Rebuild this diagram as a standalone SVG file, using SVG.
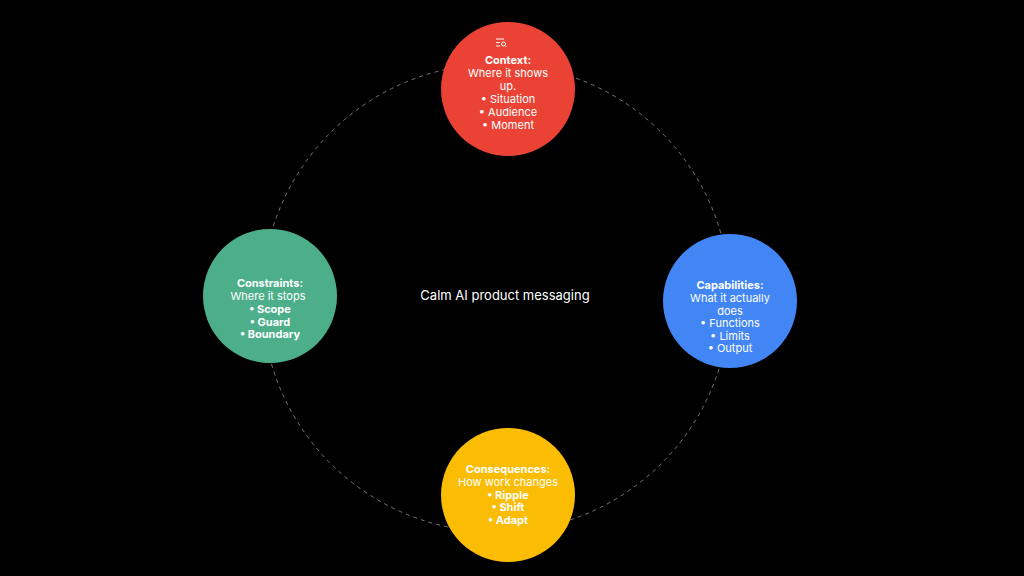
<svg xmlns="http://www.w3.org/2000/svg" width="1024" height="576" viewBox="0 0 1024 576">
<style>
text{font-family:Inter,"Liberation Sans",sans-serif;fill:#fff;font-size:11px;text-anchor:middle}
.t{font-weight:700}
.b{font-weight:700}
.c{font-size:13px}
</style>
<rect width="1024" height="576" fill="#000"/>
<g id="connectors"><circle cx="496" cy="298" r="234" fill="none" stroke="#777" stroke-width="1" stroke-dasharray="4 4"/></g>
<text class="c" x="505" y="300">Calm AI product messaging</text>
<g id="context">
<circle cx="508" cy="89" r="67" fill="#EA4335"/>
<g stroke="#fff" stroke-width="1" fill="none"><path d="M496 39h8M496 42.5h4M496 46h4"/><circle cx="503.5" cy="44" r="2"/><path d="M505 45.5l1.5 1.5"/></g>
<text class="t" x="508" y="64">Context:</text>
<text x="508" y="77">Where it shows</text>
<text x="508" y="90">up.</text>
<text x="508" y="103">•  Situation</text>
<text x="508" y="116">•  Audience</text>
<text x="508" y="129">•  Moment</text>
</g>
<g id="capabilities">
<circle cx="730" cy="301" r="67" fill="#4285F4"/>
<text class="t" x="730" y="289">Capabilities:</text>
<text x="730" y="302">What it actually</text>
<text x="730" y="315">does</text>
<text x="730" y="327">•  Functions</text>
<text x="730" y="340">•  Limits</text>
<text x="730" y="352">•  Output</text>
</g>
<g id="consequences">
<circle cx="508" cy="495" r="67" fill="#FBBC04"/>
<text class="t" x="508" y="473">Consequences:</text>
<text x="508" y="486">How work changes</text>
<text class="b" x="508" y="499">•  Ripple</text>
<text class="b" x="508" y="511">•  Shift</text>
<text class="b" x="508" y="524">•  Adapt</text>
</g>
<g id="constraints">
<circle cx="270" cy="296" r="67" fill="#4CAF8A"/>
<text class="t" x="270" y="287">Constraints:</text>
<text x="268" y="300">Where it stops</text>
<text class="b" x="270" y="313">•  Scope</text>
<text class="b" x="270" y="326">•  Guard</text>
<text class="b" x="270" y="338">•  Boundary</text>
</g>
</svg>
